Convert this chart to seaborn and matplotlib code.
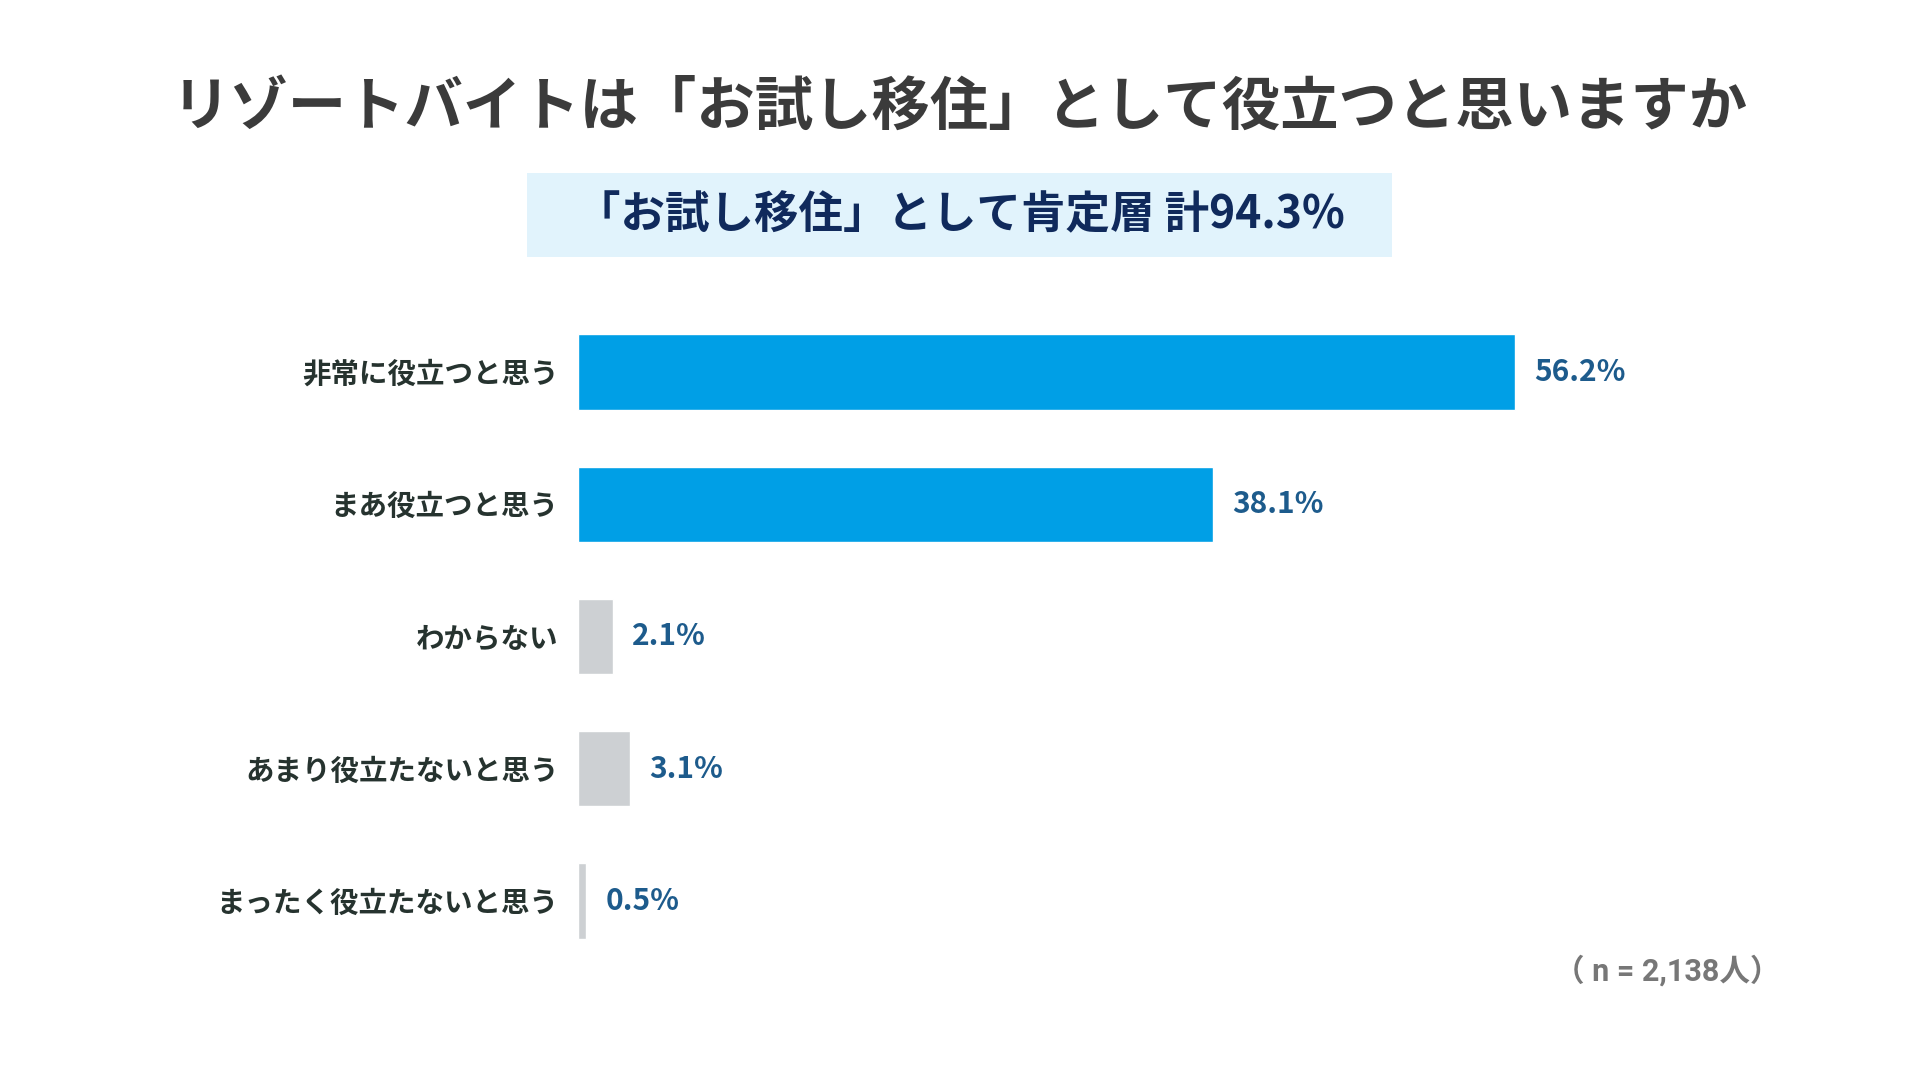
import matplotlib
matplotlib.use('Agg')
import matplotlib.pyplot as plt
import seaborn as sns
from matplotlib.patches import Rectangle

# データ
categories = ['非常に役立つと思う', 'まあ役立つと思う', 'わからない',
              'あまり役立たないと思う', 'まったく役立たないと思う']
values = [56.2, 38.1, 2.1, 3.1, 0.5]
bar_colors = ['#009fe6', '#009fe6', '#cdd0d3', '#cdd0d3', '#cdd0d3']
title = 'リゾートバイトは「お試し移住」として役立つと思いますか'
subtitle = '「お試し移住」として肯定層 計94.3%'
n_note = '（ n = 2,138人）'

sns.set_theme(style='white')
plt.rcParams['font.family'] = ['Noto Sans CJK JP', 'DejaVu Sans']

fig = plt.figure(figsize=(19.2, 10.8), dpi=100)
fig.patch.set_facecolor('white')
ax = fig.add_axes([0.301, 0.1046, 0.521, 0.6121])

sns.barplot(x=values, y=categories, hue=categories, palette=bar_colors,
            orient='h', width=0.57, legend=False, saturation=1, ax=ax)

ax.set_xlim(0, 60)
ax.set_ylim(4.5, -0.5)
ax.set_xlabel('')
ax.set_ylabel('')
ax.set_xticks([])
sns.despine(ax=ax, left=True, bottom=True)
ax.tick_params(axis='y', length=0, pad=14)
for lbl in ax.get_yticklabels():
    lbl.set_fontsize(20.5)
    lbl.set_fontweight('bold')
    lbl.set_color('#26332f')

# 数値ラベル
for cont, v in zip(ax.containers, values):
    ax.bar_label(cont, labels=[f'{v}%'], padding=14, fontsize=21.5,
                 fontweight='bold', color='#1d5b8c')

# タイトル
fig.text(0.5, 1 - 108 / 1080, title, ha='center', va='center',
         fontsize=42, fontweight='bold', color='#3b3b3b')

# サブタイトルの箱
fig.patches.append(Rectangle((527 / 1920, 1 - 257 / 1080), 865 / 1920, 84 / 1080,
                             transform=fig.transFigure, facecolor='#e1f3fc',
                             edgecolor='none', zorder=0))
fig.text(0.5, 1 - 215 / 1080, subtitle, ha='center', va='center',
         fontsize=32, fontweight='bold', color='#102a5c')

# n数
fig.text(1780 / 1920, 1 - 971 / 1080, n_note, ha='right', va='center',
         fontsize=22, fontweight='bold', color='#777777',
         family=['Roboto', 'Noto Sans CJK JP'])

fig.savefig('out.png', dpi=100, facecolor='white')
